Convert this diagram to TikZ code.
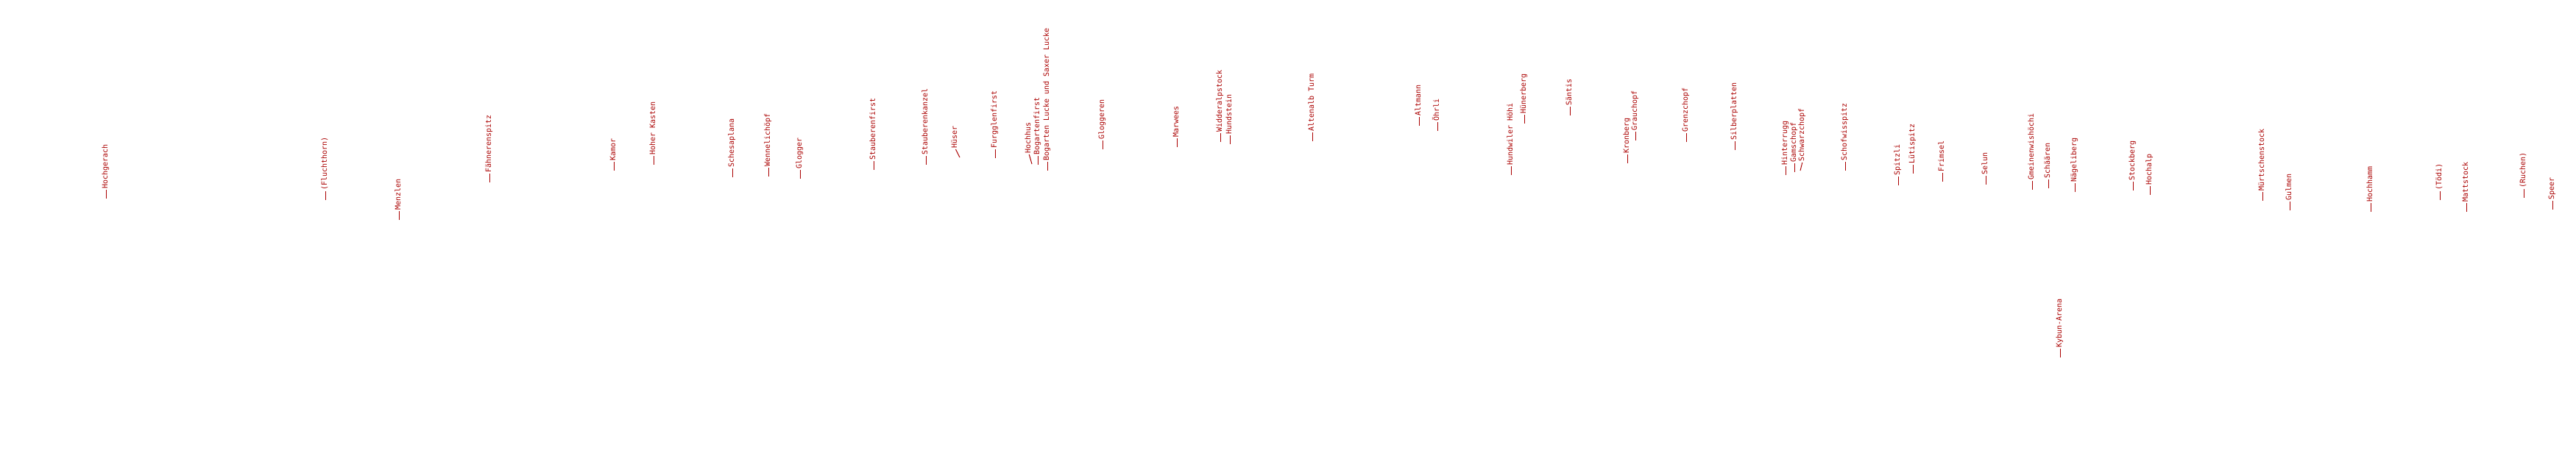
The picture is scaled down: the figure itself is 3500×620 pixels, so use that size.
\documentclass[tikz,border=0pt]{standalone}
\usepackage{fontspec}
\setmonofont{DejaVu Sans Mono}
\usepackage{tikz}
\definecolor{peakred}{HTML}{AA0000}
\tikzset{
	peak/.style={rotate=90, anchor=mid west, inner sep=0pt, text=peakred},
	tick/.style={draw=peakred, line width=1pt, shorten >=1pt}
}

\begin{document}
\begin{tikzpicture}[x=1pt, y=-1pt, font=\ttfamily\fontsize{10}{12}\selectfont]
	\useasboundingbox (0,0) rectangle (3500,620);
	%peaks with straight ticks
	\foreach \n/\x/\y/\t in {
		hochgerach/144/270/Hochgerach,
		fluchthorn/442/272/(Fluchthorn),
		menzlen/542/299/Menzlen,
		faehnerenspitz/665/248/Fähnerenspitz,
		kamor/834/232/Kamor,
		hoherkasten/888/224/Hoher Kasten,
		schesaplana/995/241/Schesaplana,
		wennelichoepf/1044/240/Wennelichöpf,
		glogger/1087/243/Glogger,
		stauberenfirst/1187/231/Stauberenfirst,
		stauberenkanzel/1258/224/Stauberenkanzel,
		furgglenfirst/1352/215/Furgglenfirst,
		bogartenfirst/1410/224/Bogartenfirst,
		bogartenlucke/1423/232/Bogarten Lucke und Saxer Lucke,
		gloggeren/1498/203/Gloggeren,
		marwees/1599/200/Marwees,
		widderalpstock/1658/193/Widderalpstock,
		hundstein/1671/196/Hundstein,
		altenalbturm/1783/192/Altenalb Turm,
		altmann/1928/171/Altmann,
		oehrli/1953/178/Öhrli,
		hundwilerhoehi/2053/238/Hundwiler Höhi,
		huenerberg/2071/168/Hünerberg,
		saentis/2133/157/Säntis,
		kronberg/2211/222/Kronberg,
		grauchopf/2222/191/Grauchopf,
		grenzchopf/2291/193/Grenzchopf,
		silberplatten/2357/204/Silberplatten,
		hinterrugg/2426/238/Hinterrugg,
		gamschopf/2438/234/Gamschopf,
		schofwisspitz/2507/232/Schofwisspitz,
		spitzli/2579/252/Spitzli,
		luetispitz/2599/236/Lütispitz,
		frimsel/2639/247/Frimsel,
		selun/2698/251/Selun,
		gmeinenwishoechi/2761/258/Gmeinenwishöchi,
		schaeaeren/2783/256/Schäären,
		naegeliberg/2819/261/Nägeliberg,
		kybunarena/2799/486/Kybun-Arena,
		stockberg/2898/259/Stockberg,
		hochalp/2921/265/Hochalp,
		muertschenstock/3074/273/Mürtschenstock,
		gulmen/3111/286/Gulmen,
		hochhamm/3221/288/Hochhamm,
		toedi/3315/272/(Tödi),
		mattstock/3351/288/Mattstock,
		ruchen/3429/269/(Ruchen),
		speer/3468/285/Speer
	}{
		\coordinate (\n-foot) at (\x,\y);
		\node[peak] (\n) at (\x,\y-13) {\t};
		\draw[tick] (\n-foot) -- (\n.mid west);
	}
	%peaks with slanted ticks
	\coordinate (hueser-foot) at (1304,214);
	\node[peak] (hueser) at (1298,202) {Hüser};
	\draw[tick] (hueser-foot) -- (hueser.mid west);
	\coordinate (hochhus-foot) at (1402,223);
	\node[peak] (hochhus) at (1398,209) {Hochhus};
	\draw[tick] (hochhus-foot) -- (hochhus.mid west);
	\coordinate (schwarzchopf-foot) at (2446,232);
	\node[peak] (schwarzchopf) at (2449,220) {Schwarzchopf};
	\draw[tick] (schwarzchopf-foot) -- (schwarzchopf.mid west);
\end{tikzpicture}
\end{document}
